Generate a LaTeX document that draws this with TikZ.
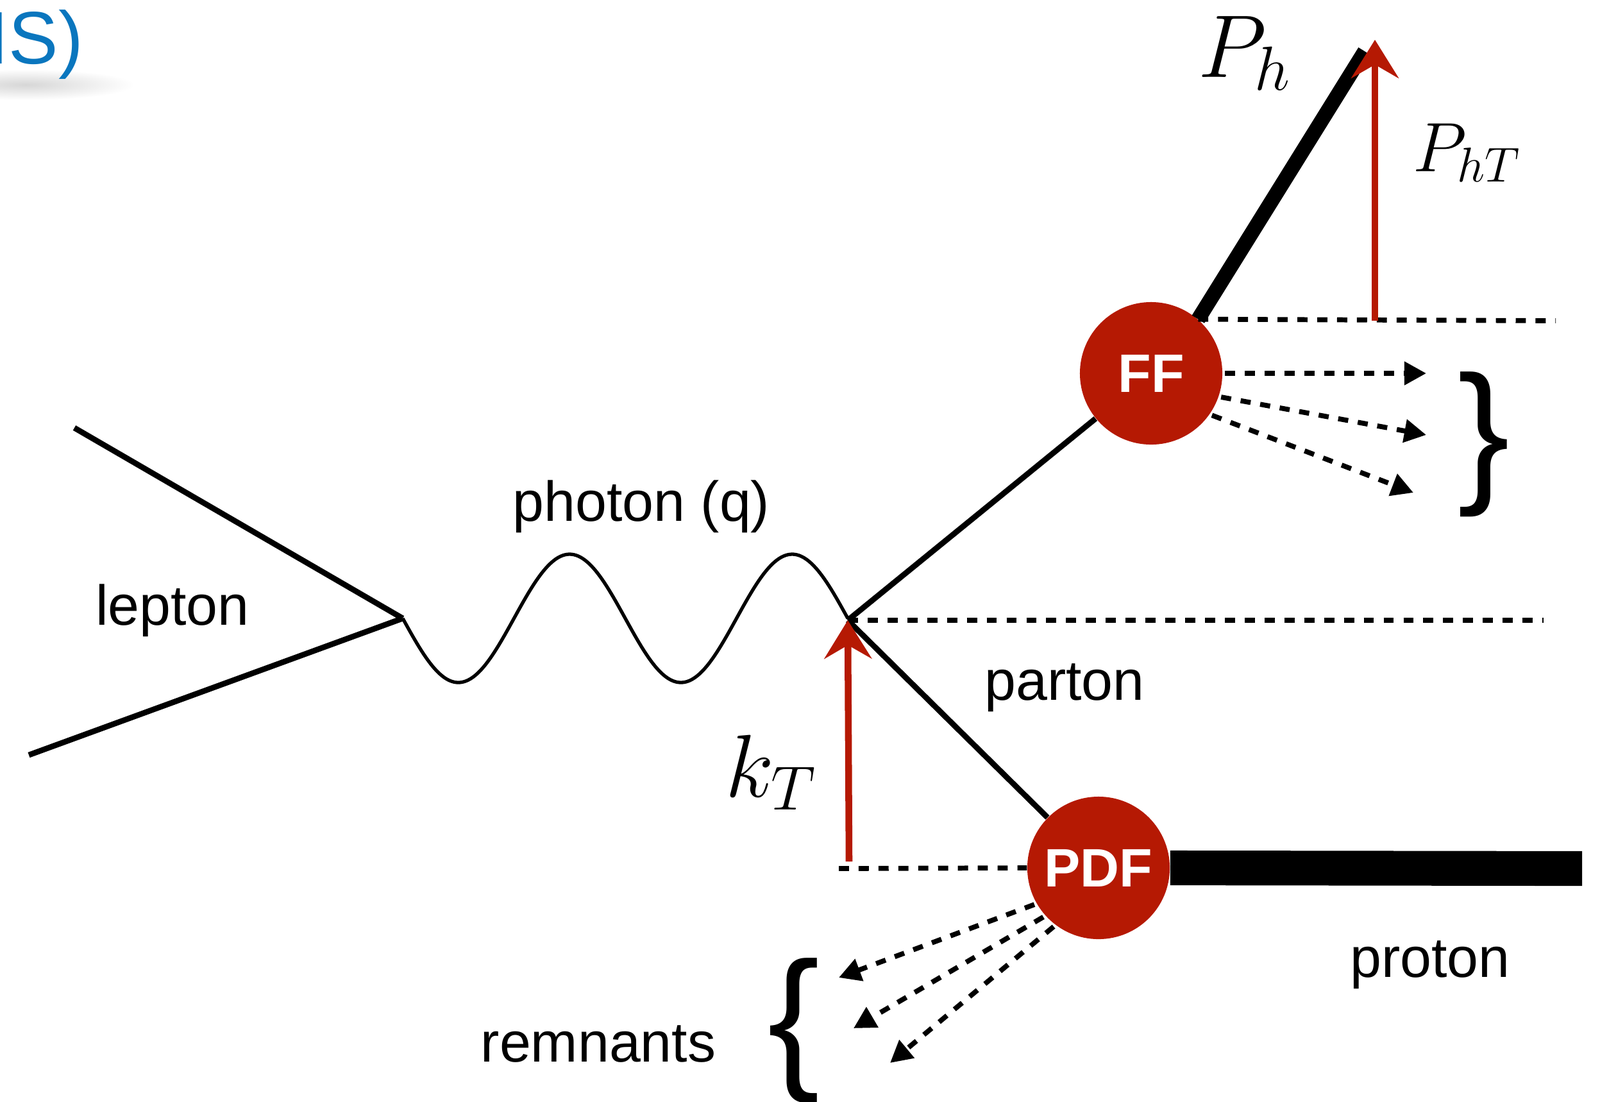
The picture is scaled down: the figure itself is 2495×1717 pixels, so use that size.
\RequirePackage{fix-cm}
\documentclass[tikz,border=0pt]{standalone}
\usepackage[no-math]{fontspec}
\setmainfont{Liberation Sans}
\usetikzlibrary{arrows.meta,decorations.pathmorphing}
\definecolor{ffred}{RGB}{181,25,3}
\definecolor{titleblue}{RGB}{10,118,190}
\begin{document}
\begin{tikzpicture}[x=0.01cm,y=-0.01cm,
  lbl/.style={font=\fontsize{25}{30}\selectfont, inner sep=0, anchor=base},
  blob/.style={circle, fill=ffred, minimum size=2.22cm, inner sep=0, text=white, font=\fontsize{24}{28}\selectfont\bfseries},
  guide/.style={line width=2.2pt, dash pattern=on 4.5pt off 4.3pt},
  frag/.style={guide, shorten <=1pt, -{Triangle[length=9.7pt,width=10pt]}},
  fermion/.style={line width=2.5pt},
  hadron/.style={line width=6.5pt},
  protonbar/.style={line width=15.4pt},
  wave/.style={line width=1.5pt},
  redarrow/.style={draw=ffred, line width=3pt, -{Stealth[length=17pt,width=21pt,inset=6pt]}},
  rough/.style={draw=ffred, line width=0.8pt, decorate, decoration={random steps, segment length=2pt, amplitude=0.8pt}},
  mathlbl/.style={inner sep=0, anchor=base west},
  bigmath/.style={font=\fontsize{39.5}{45}\selectfont},
  brace/.style={font=\fontsize{69}{69}\selectfont, inner sep=0},
]
\useasboundingbox (0,0) rectangle (2495,1717);
\clip (0,0) rectangle (2495,1717);

% title fragment with its shadow
\shade[inner color=black!16, outer color=white] (40,132) ellipse (170 and 24);
\node[font=\fontsize{33}{40}\selectfont, text=titleblue, inner sep=0, anchor=base west] (title) at (-19,99) {IS)};

% points
\coordinate (L1) at (116,667);
\coordinate (L2) at (45,1177);
\coordinate (V1) at (628,964);
\coordinate (V2) at (1322,967);
\coordinate (Phend) at (2128,80);
\coordinate (guideTend) at (2426,500);
\coordinate (guideMend) at (2407,967);
\coordinate (guideBstart) at (1308,1354);
\coordinate (protonend) at (2467,1354);
\coordinate (kTbase) at (1324,1343);
\coordinate (kTmid) at (1323,1030);
\coordinate (PhTbase) at (2144,500);
\coordinate (PhTmid) at (2144,125);
\coordinate (PhTtip) at (2144,62);
\coordinate (f1) at (2224,582);
\coordinate (f2) at (2224,678);
\coordinate (f3) at (2204,768);
\coordinate (r1) at (1308,1524);
\coordinate (r2) at (1331,1603);
\coordinate (r3) at (1388,1657);

% blobs
\node[blob] (FF) at (1795,582) {FF};
\node[blob] (PDF) at (1713,1353) {PDF};

% dashed guide lines
\draw[guide] (FF.49) -- (guideTend);
\draw[guide] (V2) -- (guideMend);
\draw[guide] (guideBstart) -- (PDF.west);

% lepton and photon
\draw[fermion] (L1) -- (V1);
\draw[fermion] (L2) -- (V1);
\begin{scope}[shift={(V1)}]
  \draw[wave] plot[domain=0:720, samples=240, smooth] ({\x*0.9639}, {100*sin(\x)});
\end{scope}

% partons
\draw[fermion] (V2) -- (FF);
\draw[fermion] (V2) -- (PDF);
\draw[hadron] (FF.49) -- (Phend);
\draw[protonbar] (PDF.east) -- (protonend);

% fragments and remnants
\draw[frag] (FF.0) -- (f1);
\draw[frag] (FF.-19) -- (f2);
\draw[frag] (FF.-35) -- (f3);
\draw[frag] (PDF.210) -- (r1);
\draw[frag] (PDF.222) -- (r2);
\draw[frag] (PDF.233) -- (r3);

% transverse momenta (chalky red arrows)
\draw[redarrow] (kTbase) -- (V2);
\draw[rough] (kTbase) -- (kTmid);
\draw[redarrow] (PhTbase) -- (PhTtip);
\draw[rough] (PhTbase) -- (PhTmid);

% braces
\node[brace] (rbrace) at (2314,693) {\}};
\node[brace] (lbrace) at (1238,1607) {\{};

% labels
\node[lbl] (lepton) at (269,974) {lepton};
\node[lbl] (photon) at (1000,812) {photon (q)};
\node[lbl] (parton) at (1660,1091) {parton};
\node[lbl] (proton) at (2230,1523) {proton};
\node[lbl] (remnants) at (933,1655) {remnants};
\node[mathlbl, bigmath] (Ph) at (1868,120) {$P_h$};
\node[mathlbl, font=\fontsize{31}{36}\selectfont] (PhT) at (2203,267) {$P_{hT}$};
\node[mathlbl, bigmath] (kT) at (1131,1242) {$k_T$};
\end{tikzpicture}
\end{document}
